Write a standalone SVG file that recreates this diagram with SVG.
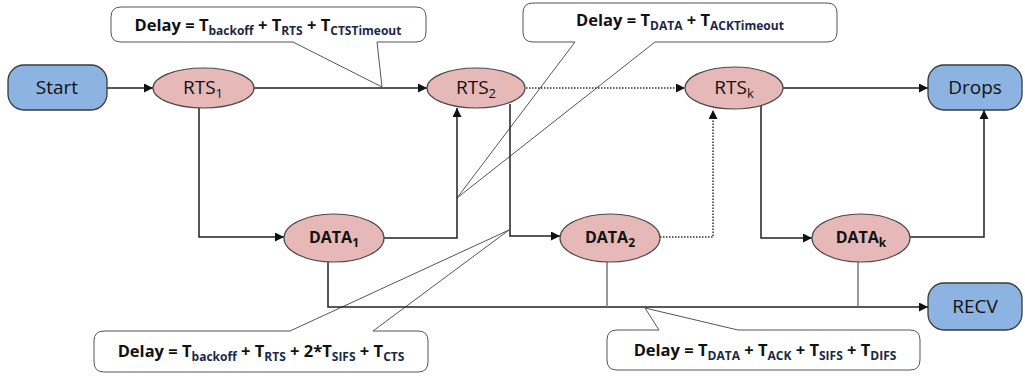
<svg xmlns="http://www.w3.org/2000/svg" width="1025" height="376" viewBox="0 0 1025 376">
<defs>
<marker id="arr" viewBox="0 0 10 10" refX="10" refY="5" markerWidth="10" markerHeight="9" markerUnits="userSpaceOnUse" orient="auto">
<path d="M0,0 L10,5 L0,10 Z" fill="#111"/>
</marker>
<style>
.term{fill:#8DB3E2;stroke:#3a3a3a;stroke-width:1.3}
.st{fill:#E6B8B7;stroke:#4a4a4a;stroke-width:1.2}
.lbl{font-family:"Open Sans","Noto Sans",sans-serif;font-size:19px;fill:#111;text-anchor:middle}
.dl{font-family:"Open Sans","Noto Sans",sans-serif;font-size:16px;font-weight:bold;fill:#111;text-anchor:middle}
.sub{font-size:13px}
.dsub{font-size:12px}
.co{fill:#fff;stroke:#555;stroke-width:1}
.ct{font-family:"Open Sans","Noto Sans",sans-serif;font-size:16.5px;font-weight:bold;fill:#111;text-anchor:middle}
.cs{font-size:12px;fill:#1c2748}
.ln{fill:none;stroke:#222;stroke-width:1.5}
.gl{fill:none;stroke:#777;stroke-width:1.5}
.dt{fill:none;stroke:#333;stroke-width:1.5;stroke-dasharray:1.5 1.5}
</style>
</defs>

<g id="callouts">
<g id="callout1">
<path class="co" d="M121 7 H416 Q426 7 426 17 V32 Q426 42 416 42 H377 L382 87 L293 42 H121 Q111 42 111 32 V17 Q111 7 121 7 Z"/>
<text class="ct" x="268" y="31">Delay = T<tspan class="cs" dy="4">backoff</tspan><tspan dy="-4"> + T</tspan><tspan class="cs" dy="4">RTS</tspan><tspan dy="-4"> + T</tspan><tspan class="cs" dy="4">CTSTimeout</tspan></text>
</g>
<g id="callout2">
<path class="co" d="M533 3 H827 Q837 3 837 13 V32 Q837 42 827 42 H655 L457 198 L575 42 H533 Q523 42 523 32 V13 Q523 3 533 3 Z"/>
<text class="ct" x="680" y="26">Delay = T<tspan class="cs" dy="4">DATA</tspan><tspan dy="-4"> + T</tspan><tspan class="cs" dy="4">ACKTimeout</tspan></text>
</g>
<g id="callout3">
<path class="co" d="M104 331 H290 L509 230 L373 331 H418 Q428 331 428 341 V362 Q428 372 418 372 H104 Q94 372 94 362 V341 Q94 331 104 331 Z"/>
<text class="ct" x="261" y="357">Delay = T<tspan class="cs" dy="4">backoff</tspan><tspan dy="-4"> + T</tspan><tspan class="cs" dy="4">RTS</tspan><tspan dy="-4"> + 2*T</tspan><tspan class="cs" dy="4">SIFS</tspan><tspan dy="-4"> + T</tspan><tspan class="cs" dy="4">CTS</tspan></text>
</g>
<g id="callout4">
<path class="co" d="M617 330 H659 L645 308 L738 330 H910 Q920 330 920 340 V360 Q920 370 910 370 H617 Q607 370 607 360 V340 Q607 330 617 330 Z"/>
<text class="ct" x="765" y="356">Delay = T<tspan class="cs" dy="4">DATA</tspan><tspan dy="-4"> + T</tspan><tspan class="cs" dy="4">ACK</tspan><tspan dy="-4"> + T</tspan><tspan class="cs" dy="4">SIFS</tspan><tspan dy="-4"> + T</tspan><tspan class="cs" dy="4">DIFS</tspan></text>
</g>
</g>

<g id="connectors">
<path class="ln" d="M107 88 H153" marker-end="url(#arr)"/>
<path class="ln" d="M254 88 H427" marker-end="url(#arr)"/>
<path class="dt" d="M526 88 H685" marker-end="url(#arr)"/>
<path class="ln" d="M783 88 H928" marker-end="url(#arr)"/>
<path class="ln" d="M199 107 V237 H284" marker-end="url(#arr)"/>
<path class="ln" d="M384 238 H457 V108" marker-end="url(#arr)"/>
<path class="ln" d="M510 104 V236 H560" marker-end="url(#arr)"/>
<path class="dt" d="M660 237 H713 V110" marker-end="url(#arr)"/>
<path class="ln" d="M761 106 V238 H812" marker-end="url(#arr)"/>
<path class="ln" d="M910 237 H984 V110" marker-end="url(#arr)"/>
<path class="ln" d="M328 262 V307 H928" marker-end="url(#arr)"/>
<path class="gl" d="M607 262 V307"/>
<path class="gl" d="M858 262 V307"/>
</g>

<g id="start">
<rect class="term" x="8" y="65" width="99" height="45" rx="16"/>
<text class="lbl" x="57" y="94">Start</text>
</g>
<g id="rts1">
<ellipse class="st" cx="203.5" cy="88" rx="50.5" ry="20"/>
<text class="lbl" x="203" y="94">RTS<tspan class="sub" dy="4">1</tspan></text>
</g>
<g id="rts2">
<ellipse class="st" cx="476" cy="88" rx="49" ry="20"/>
<text class="lbl" x="476" y="94">RTS<tspan class="sub" dy="4">2</tspan></text>
</g>
<g id="rtsk">
<ellipse class="st" cx="734" cy="88" rx="49" ry="21"/>
<text class="lbl" x="734" y="94">RTS<tspan class="sub" dy="4">k</tspan></text>
</g>
<g id="drops">
<rect class="term" x="928" y="65" width="94" height="45" rx="16"/>
<text class="lbl" x="975" y="94">Drops</text>
</g>
<g id="data1">
<ellipse class="st" cx="334" cy="238" rx="50" ry="24"/>
<text class="dl" x="334" y="243">DATA<tspan class="dsub" dy="4">1</tspan></text>
</g>
<g id="data2">
<ellipse class="st" cx="610" cy="238" rx="50" ry="24"/>
<text class="dl" x="610" y="243">DATA<tspan class="dsub" dy="4">2</tspan></text>
</g>
<g id="datak">
<ellipse class="st" cx="861" cy="238" rx="49" ry="24"/>
<text class="dl" x="861" y="243">DATA<tspan class="dsub" dy="4">k</tspan></text>
</g>
<g id="recv">
<rect class="term" x="928" y="283" width="94" height="47" rx="16"/>
<text class="lbl" x="975" y="313">RECV</text>
</g>
</svg>
